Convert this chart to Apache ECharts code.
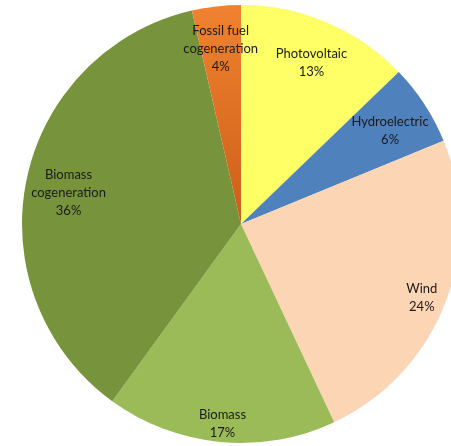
<!DOCTYPE html>
<html>
<head>
<meta charset="utf-8">
<script src="https://cdn.jsdelivr.net/npm/echarts@6/dist/echarts.min.js"></script>
<style>
html,body{margin:0;padding:0;background:#fff;}
#chart{width:451px;height:446px;}
</style>
</head>
<body>
<div id="chart"></div>
<script>
var categories = ["Photovoltaic", "Hydroelectric", "Wind", "Biomass", "Biomass\ncogeneration", "Fossil fuel\ncogeneration"];
var values = [12.8, 6.0, 24.2, 17.0, 36.4, 3.6];
var colors = ["#FFFF66", "#4F81BD", "#FCD5B5", "#9BBB59", "#77933C",
  new echarts.graphic.LinearGradient(0, 0, 0, 1, [{offset: 0, color: '#F08230'}, {offset: 1, color: '#CC5F18'}])];
var labelRadius = [180, 178, 194, 197, 176, 180];

var cx = 241, cy = 224, R = 219;
var chart = echarts.init(document.getElementById('chart'), null, {renderer: 'canvas'});
chart.setOption({
  animation: false,
  series: [{
    type: 'pie',
    center: [cx, cy],
    radius: [0, R],
    startAngle: 90,
    clockwise: true,
    avoidLabelOverlap: false,
    itemStyle: {borderWidth: 0},
    label: {
      show: true,
      position: 'inside',
      fontFamily: 'Lato',
      fontSize: 13,
      lineHeight: 18,
      color: '#1a1a1a',
      align: 'center',
      formatter: function (p) { return p.name + '\n' + Math.round(p.percent) + '%'; }
    },
    labelLayout: function (p) {
      var lr = p.labelRect;
      var lx = lr.x + lr.width / 2, ly = lr.y + lr.height / 2;
      var dx = lx - cx, dy = ly - cy;
      var d = Math.sqrt(dx * dx + dy * dy) || 1;
      var r = labelRadius[p.dataIndex];
      return {x: cx + dx * r / d, y: cy + dy * r / d + 4, align: 'center', verticalAlign: 'middle'};
    },
    data: categories.map(function (c, i) {
      return {name: c, value: values[i], itemStyle: {color: colors[i]}};
    })
  }]
});
</script>
</body>
</html>
